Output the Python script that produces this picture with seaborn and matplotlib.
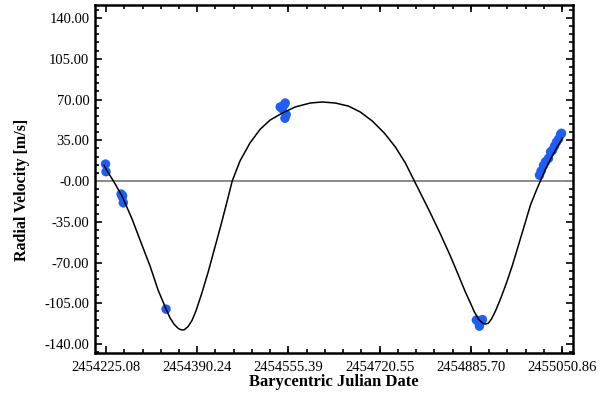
import numpy as np
import pandas as pd
import matplotlib
matplotlib.use("Agg")
import matplotlib.pyplot as plt
from matplotlib.ticker import FixedLocator, AutoMinorLocator
import seaborn as sns

# Observed radial velocities (BJD, m/s, error)
obs_bjd = [2454224.2, 2454225.1,
           2454252.3, 2454254.6, 2454256.4, 2454255.0,
           2454333.8,
           2454540.4, 2454544.1, 2454547.7, 2454549.5, 2454551.3, 2454549.0,
           2454895.6, 2454899.3, 2454901.1, 2454904.7, 2454906.5,
           2455009.8, 2455012.6, 2455017.1, 2455020.7, 2455026.1, 2455029.8,
           2455033.4, 2455037.0, 2455040.6, 2455044.3, 2455047.9, 2455049.7]
obs_rv = [14.6, 8.0,
          -11.2, -13.7, -18.6, -12.5,
          -110.0,
          63.6, 62.0, 65.5, 67.0, 57.0, 54.0,
          -119.4, -121.0, -124.6, -120.0, -119.0,
          5.0, 8.5, 13.5, 16.5, 19.5, 25.0,
          26.5, 30.0, 33.5, 36.0, 40.0, 41.0]
obs_err = [3, 3, 3, 3, 4, 3, 3, 3, 3, 3, 3, 3, 3,
           3, 3, 3, 3, 3, 3, 3, 3, 3, 3, 3, 3, 3, 3, 3, 3, 3]

# Model curve
fit_bjd = [2454221.5, 2454225.1, 2454239.6, 2454254.1, 2454272.2, 2454286.7,
           2454304.8, 2454319.3, 2454333.8, 2454341.1, 2454348.3, 2454355.6,
           2454361.0, 2454366.5, 2454373.7, 2454381.0, 2454388.2, 2454399.1,
           2454410.0, 2454420.8, 2454431.7, 2454442.6, 2454453.5, 2454467.9,
           2454486.1, 2454504.2, 2454522.3, 2454545.9, 2454567.6, 2454594.8,
           2454616.6, 2454640.1, 2454663.7, 2454685.4, 2454707.2, 2454728.9,
           2454748.9, 2454767.0, 2454783.3, 2454797.8, 2454812.3, 2454830.4,
           2454848.5, 2454863.0, 2454875.7, 2454884.8, 2454892.0, 2454899.3,
           2454906.5, 2454912.0, 2454917.4, 2454922.8, 2454930.1, 2454939.1,
           2454950.0, 2454960.9, 2454971.8, 2454982.7, 2454993.5, 2455004.4,
           2455015.2, 2455026.1, 2455038.8, 2455051.5]
fit_rv = [13.7, 10.3, -0.9, -12.9, -32.6, -50.7,
          -73.0, -93.6, -110.0, -117.7, -123.0, -126.5,
          -127.8, -127.8, -125.0, -119.5, -111.2, -95.4,
          -78.2, -59.3, -40.4, -20.6, 0.0, 17.5,
          33.0, 44.5, 52.4, 58.8, 63.6, 67.0,
          67.9, 67.0, 64.4, 59.3, 51.5, 41.2,
          29.2, 15.5, 0.0, -13.7, -27.5, -45.5,
          -64.4, -80.8, -95.4, -104.8, -112.5, -118.6,
          -122.0, -122.9, -122.0, -118.6, -111.7, -101.4,
          -87.6, -72.2, -55.0, -37.8, -20.6, -7.7,
          4.3, 15.5, 26.6, 36.9]

xticks = [2454225.08, 2454390.24, 2454555.39, 2454720.55, 2454885.70, 2455050.86]
xtick_labels = ["2454225.08", "2454390.24", "2454555.39", "2454720.55", "2454885.70", "2455050.86"]
yticks = [-140, -105, -70, -35, 0, 35, 70, 105, 140]
ytick_labels = ["-140.00", "-105.00", "-70.00", "-35.00", "-0.00", "35.00", "70.00", "105.00", "140.00"]

sns.set_style("ticks")
plt.rcParams["font.family"] = ["Liberation Serif", "DejaVu Serif"]

fig = plt.figure(figsize=(6.0, 3.93), dpi=100)
ax = fig.add_axes([0.1583, 0.1018, 0.797, 0.8855])

fit_df = pd.DataFrame({"bjd": fit_bjd, "rv": fit_rv})
obs_df = pd.DataFrame({"bjd": obs_bjd, "rv": obs_rv, "err": obs_err})

blue = "#1f5ef5"
ax.axhline(0, color="#8a8a8a", lw=1.4, zorder=1)
sns.lineplot(data=fit_df, x="bjd", y="rv", sort=False, color="black", lw=1.1, ax=ax, zorder=3)
ax.errorbar(obs_df["bjd"], obs_df["rv"], yerr=obs_df["err"], fmt="none",
            ecolor=blue, elinewidth=1.8, zorder=2)
sns.scatterplot(data=obs_df, x="bjd", y="rv", color=blue, s=46, edgecolor="none", ax=ax, zorder=2)

ax.set_xlim(2454205.1, 2455070.8)
ax.set_ylim(-147.7, 151.2)
ax.xaxis.set_major_locator(FixedLocator(xticks))
ax.set_xticklabels(xtick_labels)
ax.yaxis.set_major_locator(FixedLocator(yticks))
ax.set_yticklabels(ytick_labels)
ax.xaxis.set_minor_locator(AutoMinorLocator(5))
ax.yaxis.set_minor_locator(AutoMinorLocator(5))
ax.tick_params(which="both", direction="in", top=True, right=True, color="black",
               labelcolor="black", labelsize=10.5, width=1.2)
ax.tick_params(axis="x", which="major", pad=6)
ax.tick_params(axis="y", which="major", pad=4)
ax.tick_params(which="major", length=5)
ax.tick_params(which="minor", length=3)
for s in ax.spines.values():
    s.set_linewidth(1.8)
    s.set_color("black")

ax.set_xlabel("Barycentric Julian Date", fontsize=12, fontweight="bold", color="black", labelpad=0)
ax.set_ylabel("Radial Velocity [m/s]", fontsize=11.5, fontweight="bold", color="black")
ax.yaxis.set_label_coords(-0.135, 0.47)

fig.savefig("out.png", dpi=100)
